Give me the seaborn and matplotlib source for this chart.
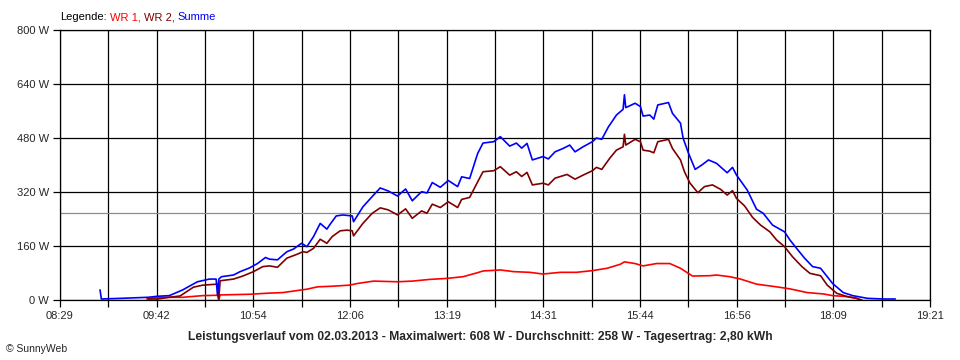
import matplotlib
matplotlib.use('Agg')
import matplotlib.pyplot as plt
import seaborn as sns
import pandas as pd
import numpy as np

# WR 1 (red)
wr1_time = ["09:34", "09:42", "10:01", "10:16", "10:27", "10:28", "10:29", "10:51", "11:04", "11:16",
            "11:34", "11:42", "11:54", "12:06", "12:12", "12:24", "12:42", "12:53", "13:06", "13:19",
            "13:31", "13:42", "13:46", "13:59", "14:09", "14:21", "14:31", "14:44", "14:56", "15:08",
            "15:19", "15:29", "15:32", "15:40", "15:46", "15:56", "16:06", "16:14", "16:23", "16:36",
            "16:41", "16:51", "16:59", "17:11", "17:26", "17:36", "17:49", "18:01", "18:08", "18:19",
            "18:26", "18:28"]
wr1_power = [3, 8, 8, 13, 14, 0, 15, 17, 20, 22,
             32, 39, 41, 44, 49, 56, 54, 56, 61, 64,
             69, 81, 86, 89, 84, 82, 77, 82, 82, 87,
             94, 106, 113, 108, 101, 108, 108, 94, 71, 72,
             74, 69, 62, 47, 39, 33, 22, 18, 13, 10,
             5, 0]

# WR 2 (dark red)
wr2_time = ["09:35", "09:42", "09:51", "09:59", "10:04", "10:09", "10:16", "10:27", "10:28", "10:29",
            "10:39", "10:46", "10:54", "11:01", "11:06", "11:12", "11:19", "11:27", "11:31", "11:34",
            "11:39", "11:44", "11:49", "11:53", "11:59", "12:04", "12:08", "12:09", "12:16", "12:23",
            "12:29", "12:35", "12:42", "12:48", "12:53", "13:00", "13:04", "13:08", "13:14", "13:20",
            "13:27", "13:30", "13:36", "13:42", "13:46", "13:54", "13:59", "14:06", "14:11", "14:15",
            "14:19", "14:23", "14:31", "14:35", "14:40", "14:49", "14:55", "15:01", "15:08", "15:11",
            "15:15", "15:21", "15:26", "15:31", "15:32", "15:33", "15:40", "15:44", "15:46", "15:51",
            "15:54", "15:57", "16:05", "16:08", "16:14", "16:17", "16:21", "16:27", "16:32", "16:38",
            "16:44", "16:49", "16:53", "16:56", "17:02", "17:08", "17:14", "17:21", "17:26", "17:32",
            "17:38", "17:45", "17:51", "17:59", "18:04", "18:11", "18:19", "18:26", "18:30"]
wr2_power = [3, 3, 8, 12, 25, 38, 44, 47, 3, 57,
             62, 71, 84, 99, 101, 97, 124, 136, 143, 141,
             153, 180, 168, 188, 205, 207, 205, 190, 227, 257,
             273, 267, 252, 270, 242, 264, 257, 284, 274, 291,
             274, 298, 304, 350, 380, 383, 395, 370, 380, 366,
             378, 341, 346, 341, 361, 372, 358, 370, 383, 393,
             387, 420, 444, 454, 491, 459, 476, 469, 444, 441,
             436, 469, 476, 449, 415, 380, 347, 318, 336, 341,
             328, 311, 324, 301, 279, 245, 222, 202, 178, 158,
             128, 99, 79, 72, 44, 20, 10, 5, 0]

# Summe (blue)
sum_time = ["08:59", "09:00", "09:15", "09:35", "09:42", "09:51", "10:01", "10:06", "10:12", "10:21",
            "10:26", "10:27", "10:28", "10:30", "10:39", "10:44", "10:51", "10:57", "11:03", "11:06",
            "11:12", "11:19", "11:24", "11:30", "11:34", "11:39", "11:44", "11:49", "11:51", "11:56",
            "12:01", "12:08", "12:09", "12:16", "12:24", "12:29", "12:35", "12:42", "12:48", "12:53",
            "13:00", "13:04", "13:08", "13:14", "13:20", "13:27", "13:30", "13:36", "13:42", "13:46",
            "13:54", "13:59", "14:06", "14:11", "14:15", "14:19", "14:23", "14:31", "14:35", "14:40",
            "14:46", "14:51", "14:55", "15:01", "15:08", "15:11", "15:15", "15:20", "15:26", "15:31",
            "15:32", "15:33", "15:40", "15:44", "15:46", "15:51", "15:54", "15:57", "16:05", "16:08",
            "16:14", "16:16", "16:20", "16:25", "16:30", "16:35", "16:41", "16:49", "16:53", "16:56",
            "17:04", "17:11", "17:16", "17:23", "17:32", "17:36", "17:41", "17:47", "17:53", "17:59",
            "18:04", "18:08", "18:16", "18:23", "18:34", "18:46", "18:55"]
sum_power = [30, 3, 5, 8, 11, 13, 30, 41, 54, 62,
             62, 15, 62, 69, 74, 84, 95, 108, 126, 121,
             119, 143, 151, 168, 158, 188, 227, 210, 222, 249,
             252, 249, 232, 276, 311, 332, 323, 308, 329, 294,
             321, 317, 348, 334, 354, 336, 365, 360, 434, 465,
             469, 484, 456, 465, 450, 464, 415, 425, 418, 439,
             449, 459, 439, 454, 469, 480, 476, 513, 548, 565,
             608, 570, 583, 573, 545, 548, 536, 578, 585, 553,
             524, 479, 435, 387, 400, 415, 405, 377, 393, 370,
             326, 269, 257, 222, 202, 178, 153, 124, 99, 94,
             69, 49, 22, 13, 5, 3, 3]

average_w = 258
x_labels = ["08:29", "09:42", "10:54", "12:06", "13:19", "14:31", "15:44", "16:56", "18:09", "19:21"]
y_values = [0, 160, 320, 480, 640, 800]

series_names = ["WR 1", "WR 2", "Summe"]
colors = {"WR 1": "#ff0000", "WR 2": "#800000", "Summe": "#0000ff"}
title = ("Leistungsverlauf vom 02.03.2013 - Maximalwert: 608 W - "
         "Durchschnitt: 258 W - Tagesertrag: 2,80 kWh")


def to_min(hhmm):
    h, m = hhmm.split(':')
    return int(h) * 60 + int(m)


frames = []
for name, t, w in zip(series_names, [wr1_time, wr2_time, sum_time], [wr1_power, wr2_power, sum_power]):
    frames.append(pd.DataFrame({'minute': [to_min(v) for v in t], 'power': w, 'series': name}))
df = pd.concat(frames, ignore_index=True)

sns.set_style('white')
plt.rcParams['font.family'] = ['Liberation Sans', 'DejaVu Sans']

fig = plt.figure(figsize=(9.6, 3.6), dpi=100)
ax = fig.add_axes([60 / 960, 60 / 360, 870 / 960, 270 / 360])

x0, x1 = to_min(x_labels[0]), to_min(x_labels[-1])
major = np.linspace(x0, x1, len(x_labels))
minor = (major[:-1] + major[1:]) / 2

ax.set_xlim(x0, x1)
ax.set_ylim(0, 800)
ax.set_xticks(major)
ax.set_xticklabels(x_labels)
ax.set_xticks(minor, minor=True)
ax.set_yticks(y_values)
ax.set_yticklabels([f'{v} W' for v in y_values])

ax.set_axisbelow(True)
ax.grid(which='both', axis='x', color='black', lw=0.9)
ax.grid(which='major', axis='y', color='black', lw=0.9)
ax.axhline(average_w, color='#8c8c8c', lw=0.9, zorder=1.5)

sns.lineplot(data=df, x='minute', y='power', hue='series', palette=colors,
             hue_order=series_names, linewidth=1.2,
             estimator=None, sort=False, legend=False, ax=ax)

ax.set_xlabel('')
ax.set_ylabel('')
ax.tick_params(axis='both', which='both', direction='out', length=5, width=0.9,
               color='black', labelsize=8, bottom=True, left=True, pad=3)
for s in ax.spines.values():
    s.set_color('black')
    s.set_linewidth(0.9)

fig.text(0.5, 1 - 337 / 360, title, ha='center', va='center', fontsize=8.7, fontweight='bold')
fig.text(6 / 960, 1 - 349 / 360, '\u00a9 SunnyWeb', ha='left', va='center', fontsize=7.5)

# legend line at the top, drawn piece by piece in colour
legend_parts = ['Legende:', 'WR 1,', 'WR 2,', 'Summe']
legend_colors = ['black', colors['WR 1'], colors['WR 2'], colors['Summe']]
renderer = fig.canvas.get_renderer()
xpos = 60
for txt, col in zip(legend_parts, legend_colors):
    t = fig.text(xpos / 960, 1 - 17 / 360, txt, color=col, fontsize=8, va='center')
    bb = t.get_window_extent(renderer=renderer)
    xpos = bb.x1 + 3

fig.savefig('out.png', dpi=100, facecolor='white')
